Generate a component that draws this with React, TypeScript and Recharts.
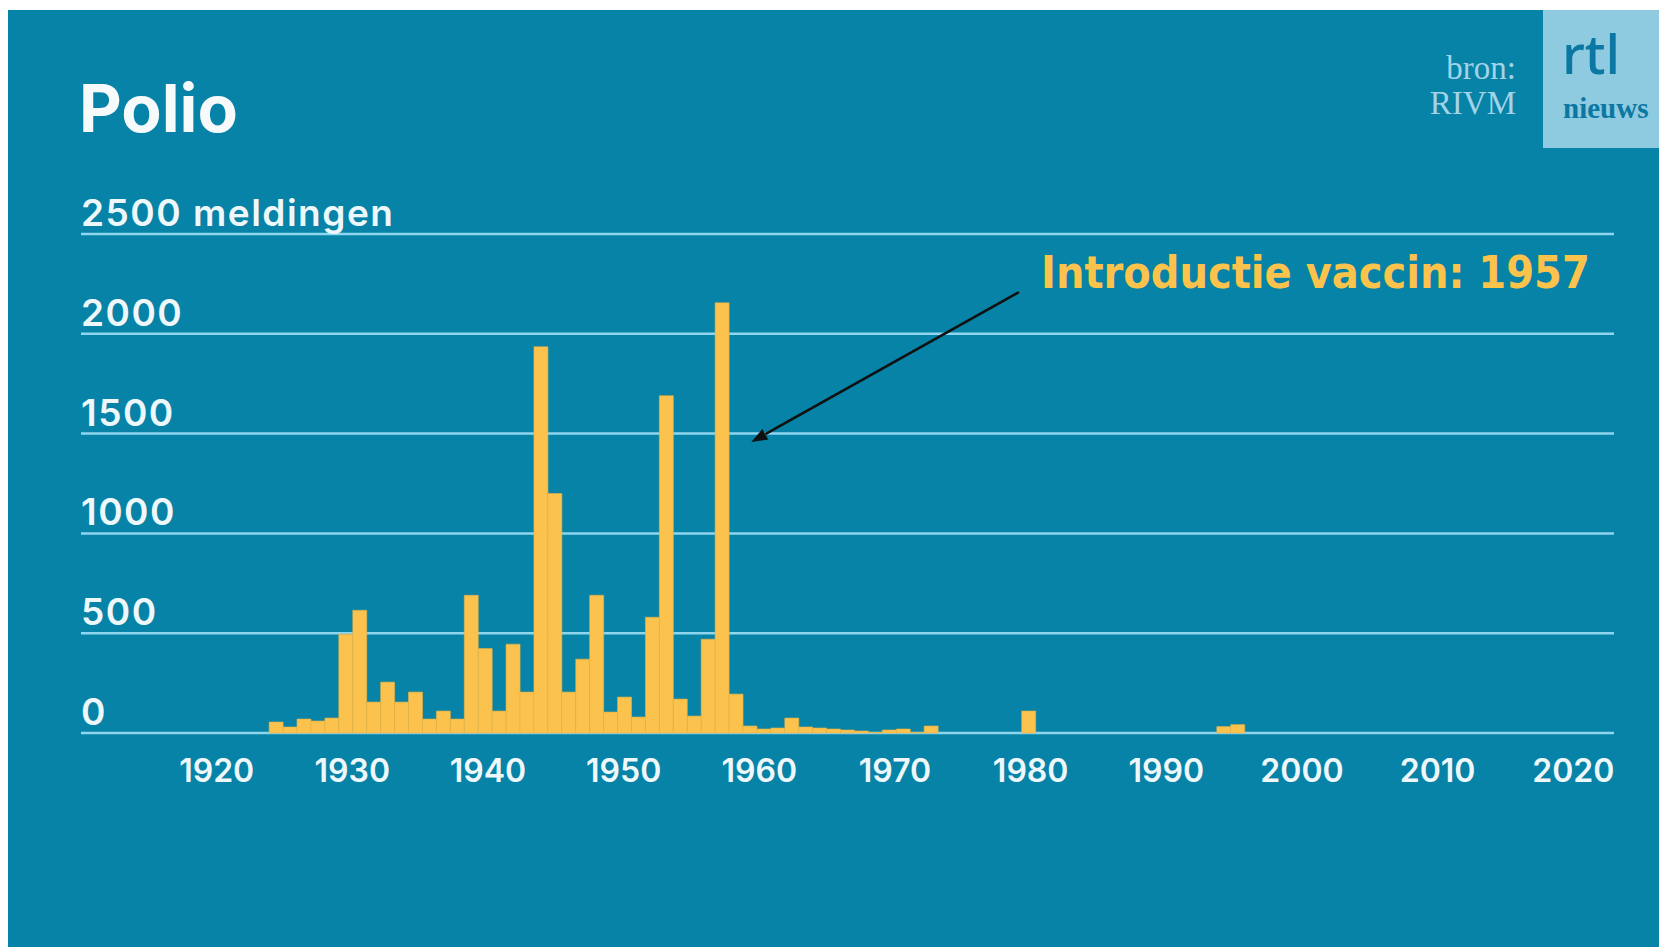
import React from 'react';
import { BarChart, Bar, XAxis, YAxis, CartesianGrid, ReferenceLine } from 'recharts';

// ---- data ----
const years = [
  1924, 1925, 1926, 1927, 1928, 1929, 1930, 1931, 1932, 1933,
  1934, 1935, 1936, 1937, 1938, 1939, 1940, 1941, 1942, 1943,
  1944, 1945, 1946, 1947, 1948, 1949, 1950, 1951, 1952, 1953,
  1954, 1955, 1956, 1957, 1958, 1959, 1960, 1961, 1962, 1963,
  1964, 1965, 1966, 1967, 1968, 1969, 1970, 1971, 1972, 1973,
  1974, 1975, 1976, 1977, 1978, 1979, 1980, 1981, 1982, 1983,
  1984, 1985, 1986, 1987, 1988, 1989, 1990, 1991, 1992, 1993,
  1994, 1995,
];
const cases = [
  55, 30, 70, 60, 75, 495, 615, 155, 255, 155,
  205, 70, 110, 70, 690, 423, 110, 445, 205, 1935,
  1200, 205, 370, 690, 105, 180, 80, 580, 1690, 170,
  85, 470, 2155, 195, 35, 20, 25, 75, 30, 25,
  20, 15, 10, 3, 15, 20, 3, 35, 0, 0,
  0, 0, 0, 0, 110, 0, 0, 0, 0, 0,
  0, 0, 0, 0, 0, 0, 0, 0, 32, 42,
  0, 0,
];
const xTicks = [1920, 1930, 1940, 1950, 1960, 1970, 1980, 1990, 2000, 2010, 2020];
const yTicks = [0, 500, 1000, 1500, 2000, 2500];
const barDomain = [1910, 2020];
const labelDomain = [1910, 2023];
// annotation arrow anchors (data coordinates)
const arrowFrom = { x: 1977.3, y: 2209 };
const arrowTo = { x: 1958.1, y: 1458 };

const data = years.map((year, i) => ({ year, cases: cases[i] }));

// ---- styles ----
const W = 1651;
const H = 937;
const PLOT_LEFT = 73;
const M = { top: 224, right: 45, bottom: 154, left: PLOT_LEFT - 1 };
const BG = '#0683a7';
const GRID = '#8fd5ee';
const BAR = '#fbc34e';
const LABEL = '#eef7fa';

const XTick = (props: any) => {
  const { x, y, payload } = props;
  return (
    <text
      x={x}
      y={y + 19}
      textAnchor="middle"
      fill={LABEL}
      fontFamily="Inter, 'Noto Sans', sans-serif"
      fontWeight={600}
      fontSize={32}
    >
      {payload.value}
    </text>
  );
};

const YTick = (props: any) => {
  const { y, payload } = props;
  const label = payload.value === 2500 ? '2500 meldingen' : String(payload.value);
  return (
    <text
      x={PLOT_LEFT}
      y={y - 8}
      textAnchor="start"
      fill={LABEL}
      fontFamily="Inter, 'Noto Sans', sans-serif"
      fontWeight={600}
      fontSize={37}
      letterSpacing={1.5}
    >
      {label}
    </text>
  );
};

const Arrow = (props: any) => {
  const { x1, y1, x2, y2 } = props;
  const ang = Math.atan2(y2 - y1, x2 - x1);
  const len = 16;
  const half = 6;
  const bx = x2 - len * Math.cos(ang);
  const by = y2 - len * Math.sin(ang);
  const px = -Math.sin(ang) * half;
  const py = Math.cos(ang) * half;
  return (
    <g>
      <line x1={x1} y1={y1} x2={bx} y2={by} stroke="#111" strokeWidth={2.6} />
      <polygon
        points={`${x2},${y2} ${bx + px},${by + py} ${bx - px},${by - py}`}
        fill="#111"
      />
    </g>
  );
};

export default function App() {
  return (
    <div
      style={{
        position: 'fixed',
        left: 8,
        top: 10,
        width: W,
        height: H,
        background: BG,
        overflow: 'hidden',
      }}
    >
      <div style={{ position: 'absolute', left: 0, top: 0 }}>
        <BarChart
          width={W}
          height={H}
          data={data}
          margin={M}
          barCategoryGap={0}
          barGap={0}
        >
          <CartesianGrid
            xAxisId="bars"
            horizontal
            vertical={false}
            stroke={GRID}
            strokeWidth={2.5}
          />
          <XAxis
            xAxisId="bars"
            dataKey="year"
            type="number"
            domain={barDomain}
            allowDataOverflow
            hide
          />
          <XAxis
            xAxisId="labels"
            dataKey="year"
            type="number"
            domain={labelDomain}
            allowDataOverflow
            ticks={xTicks}
            interval={0}
            axisLine={false}
            tickLine={false}
            tickSize={0}
            tickMargin={0}
            height={60}
            tick={XTick}
          />
          <YAxis
            type="number"
            domain={[0, 2500]}
            ticks={yTicks}
            interval={0}
            width={1}
            axisLine={false}
            tickLine={false}
            tickSize={0}
            tickMargin={0}
            tick={YTick}
          />
          <Bar
            xAxisId="bars"
            dataKey="cases"
            fill={BAR}
            stroke="#e6b042"
            strokeWidth={0.6}
            isAnimationActive={false}
          />
          <ReferenceLine
            xAxisId="bars"
            segment={[arrowFrom, arrowTo]}
            shape={Arrow}
            ifOverflow="visible"
          />
        </BarChart>
      </div>
      <svg
        width={W}
        height={H}
        style={{ position: 'absolute', left: 0, top: 0, pointerEvents: 'none' }}
      >
        <text
          x={71}
          y={122}
          fill="#f6fafb"
          fontFamily="Inter, 'Noto Sans', sans-serif"
          fontWeight={700}
          fontSize={66}
        >
          Polio
        </text>
        <text
          x={1508}
          y={69}
          textAnchor="end"
          fill="#a3d3e6"
          fontFamily="'Liberation Serif', serif"
          fontSize={33}
        >
          bron:
        </text>
        <text
          x={1508}
          y={104}
          textAnchor="end"
          fill="#a3d3e6"
          fontFamily="'Liberation Serif', serif"
          fontSize={33}
        >
          RIVM
        </text>
        <rect x={1535} y={0} width={120} height={138} fill="#8ecae0" />
        <text
          x={1554}
          y={64}
          fill="#0a78a2"
          fontFamily="'Noto Sans', sans-serif"
          fontWeight={500}
          fontSize={54}
        >
          rtl
        </text>
        <text
          x={1555}
          y={108}
          fill="#0a78a2"
          fontFamily="'Liberation Serif', serif"
          fontWeight={700}
          fontSize={29}
        >
          nieuws
        </text>
        <text
          x={1033}
          y={278}
          fill="#fbc24c"
          fontFamily="'DejaVu Sans Condensed', 'DejaVu Sans', sans-serif"
          fontStretch="condensed"
          fontWeight={700}
          fontSize={44.5}
        >
          Introductie vaccin: 1957
        </text>
      </svg>
    </div>
  );
}
